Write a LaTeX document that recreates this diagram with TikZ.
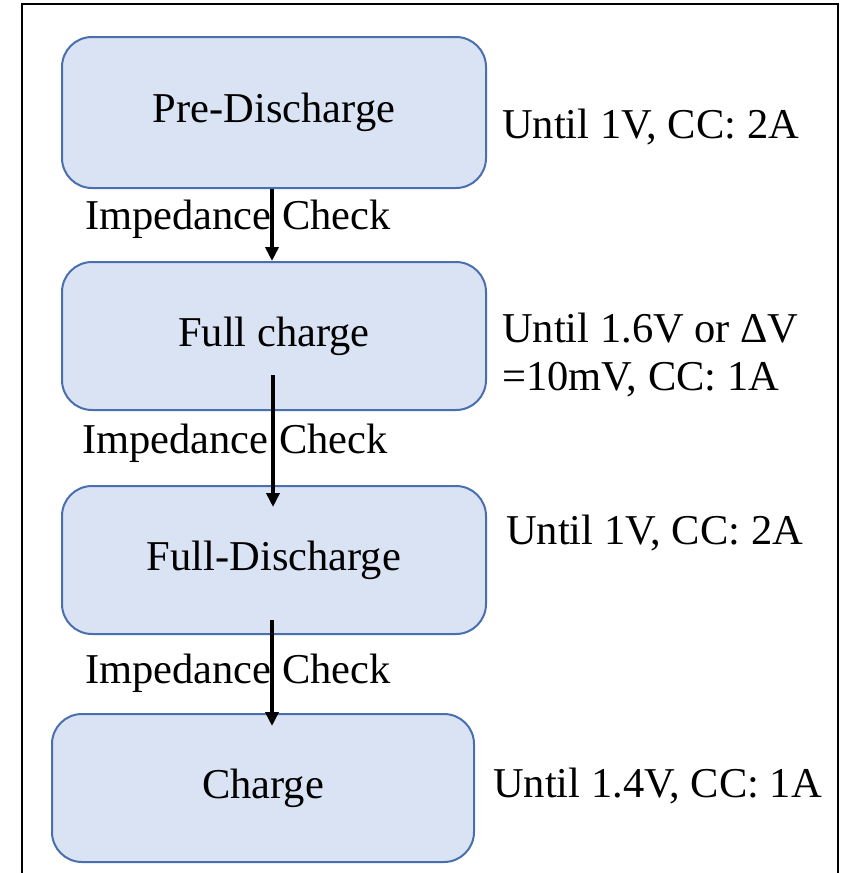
\documentclass[tikz,border=0pt]{standalone}
\usepackage{fontspec}
\setmainfont{Liberation Serif}
\newfontfamily\stagefont{Liberation Serif}
\usetikzlibrary{arrows.meta}
\definecolor{stagefill}{HTML}{DAE3F3}
\definecolor{stageline}{HTML}{4A6FAE}
\tikzset{
  stagebox/.style={draw=stageline, line width=2pt, fill=stagefill, rounded corners=30pt,
    minimum width=424pt, minimum height=148pt, inner sep=0pt},
  txt/.style={inner sep=0pt, font=\stagefont\fontsize{42.5}{50}\selectfont},
  flow/.style={-{Triangle[width=13pt,length=14pt]}, line width=3.5pt, black}
}
\begin{document}
\begin{tikzpicture}[x=1pt, y=-1pt]
    \useasboundingbox (0,0) rectangle (849,873);
    % outer frame (no bottom edge)
    \draw[line width=2pt] (22,880) -- (22,4) -- (838,4) -- (838,880);

    % stages
    \node[stagebox, minimum height=151pt, txt] (pre) at (274,112.5) {Pre-Discharge};
    \node[stagebox, txt] (full) at (274,336) {Full charge};
    \node[stagebox, txt] (fdis) at (274,560) {Full-Discharge};
    \node[stagebox, minimum width=422pt, txt] (chg) at (263,788) {Charge};

    % conditions
    \node[txt, anchor=west] (c1) at (502,127) {Until 1V, CC: 2A};
    \node[txt, anchor=west, align=left] (c2) at (502,355) {Until 1.6V or ΔV\\[-2pt]=10mV, CC: 1A};
    \node[txt, anchor=west] (c3) at (506,533) {Until 1V, CC: 2A};
    \node[txt, anchor=west] (c4) at (493,786) {Until 1.4V, CC: 1A};

    % checks
    \node[txt] (k1) at (238,219) {Impedance Check};
    \node[txt] (k2) at (235,443) {Impedance Check};
    \node[txt] (k3) at (238,673) {Impedance Check};

    \coordinate (a2s) at (273,375);
    \coordinate (a2e) at (273,507);
    \coordinate (a3s) at (272,620);
    \coordinate (a3e) at (272,726);

    \draw[flow] (pre.south -| 272,0) -- (full.north -| 272,0);
    \draw[flow] (a2s) -- (a2e);
    \draw[flow] (a3s) -- (a3e);
\end{tikzpicture}
\end{document}
